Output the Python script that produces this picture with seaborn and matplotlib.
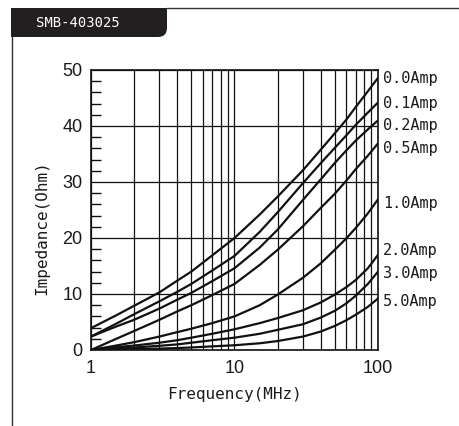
import matplotlib
matplotlib.use("Agg")
import matplotlib.pyplot as plt
import seaborn as sns
import pandas as pd
from matplotlib.path import Path
from matplotlib.patches import PathPatch
from matplotlib.lines import Line2D
from matplotlib.ticker import FixedLocator, MultipleLocator, NullFormatter

# ---------------- data ----------------
freq = [1, 1.5, 2, 3, 4, 5, 7, 10, 15, 20, 30, 40, 50, 60, 70, 85, 100]
imp_0_0 = [3.9, 6.2, 7.9, 10.3, 12.4, 14.0, 16.9, 20.0, 24.2, 27.4, 32.1, 35.8, 38.7, 41.1, 43.4, 46.2, 48.6]
imp_0_1 = [2.4, 4.7, 6.4, 8.7, 10.4, 11.8, 14.2, 16.8, 21.1, 24.6, 29.8, 33.4, 36.1, 38.3, 40.2, 42.4, 44.2]
imp_0_2 = [2.4, 4.2, 5.4, 7.4, 9.0, 10.2, 12.3, 14.6, 18.3, 21.5, 26.8, 30.5, 33.4, 35.6, 37.4, 39.4, 41.0]
imp_0_5 = [0.0, 2.0, 3.4, 5.4, 6.9, 8.0, 9.8, 11.8, 15.2, 17.9, 22.1, 25.4, 27.9, 30.2, 32.3, 34.7, 36.9]
imp_1_0 = [0.0, 0.8, 1.4, 2.4, 3.2, 3.8, 4.8, 6.0, 8.0, 9.9, 12.9, 15.5, 17.9, 19.9, 21.8, 24.4, 26.9]
imp_2_0 = [0.0, 0.5, 0.8, 1.3, 1.75, 2.2, 2.9, 3.7, 4.8, 5.7, 7.1, 8.5, 9.9, 11.2, 12.5, 14.6, 17.0]
imp_3_0 = [0.0, 0.28, 0.45, 0.75, 1.0, 1.3, 1.75, 2.2, 2.9, 3.6, 4.6, 5.8, 7.0, 8.3, 9.7, 11.8, 14.0]
imp_5_0 = [0.0, 0.08, 0.15, 0.25, 0.35, 0.45, 0.65, 0.85, 1.2, 1.6, 2.4, 3.3, 4.3, 5.3, 6.3, 7.7, 9.2]

currents = ["0.0Amp", "0.1Amp", "0.2Amp", "0.5Amp", "1.0Amp", "2.0Amp", "3.0Amp", "5.0Amp"]
series = [imp_0_0, imp_0_1, imp_0_2, imp_0_5, imp_1_0, imp_2_0, imp_3_0, imp_5_0]
label_y = [48.5, 44.1, 40.0, 35.9, 26.1, 17.7, 13.6, 8.7]

x_ticks = [1, 10, 100]
x_tick_labels = ["1", "10", "100"]
y_ticks = [0, 10, 20, 30, 40, 50]
title_tab = "SMB-403025"
x_label = "Frequency(MHz)"
y_label = "Impedance(Ohm)"

rows = []
for cur, vals in zip(currents, series):
    for f, v in zip(freq, vals):
        rows.append({"freq": f, "imp": v, "current": cur})
df = pd.DataFrame(rows)

# ---------------- figure ----------------
sns.set_style("white")
W, H = 460, 426
fig = plt.figure(figsize=(W / 100, H / 100), dpi=100)
ax = fig.add_axes([91 / W, 76 / H, 287 / W, 280 / H])

sns.lineplot(data=df, x="freq", y="imp", hue="current", hue_order=currents,
             palette=["#111111"] * len(currents), legend=False, ax=ax,
             estimator=None, sort=False, linewidth=1.6)

ax.set_xscale("log")
ax.set_xlim(1, 100)
ax.set_ylim(0, 50)
ax.xaxis.set_major_locator(FixedLocator(x_ticks))
ax.set_xticklabels(x_tick_labels)
ax.xaxis.set_minor_locator(FixedLocator([2, 3, 4, 5, 6, 7, 8, 9, 20, 30, 40, 50, 60, 70, 80, 90]))
ax.xaxis.set_minor_formatter(NullFormatter())
ax.yaxis.set_major_locator(FixedLocator(y_ticks))
ax.yaxis.set_minor_locator(MultipleLocator(2))

ax.grid(True, which="both", axis="x", color="#111111", linewidth=0.9)
ax.grid(True, which="major", axis="y", color="#111111", linewidth=0.9)
ax.set_axisbelow(False)

ax.tick_params(axis="both", which="major", length=0)
ax.tick_params(axis="x", which="major", pad=7)
ax.tick_params(axis="y", which="major", pad=6)
ax.tick_params(axis="x", which="minor", length=0)
ax.tick_params(axis="y", which="minor", direction="in", length=7, width=1.0,
               color="#111111", left=True, right=False)
for lab in ax.get_xticklabels() + ax.get_yticklabels():
    lab.set_family("Liberation Sans")
    lab.set_fontsize(13)
    lab.set_color("#1a1a1a")
for s in ax.spines.values():
    s.set_color("#111111")
    s.set_linewidth(1.2)

ax.set_xlabel("")
ax.set_ylabel("")

# curve labels
for cur, yv in zip(currents, label_y):
    ax.text(1.018, yv, cur, transform=ax.get_yaxis_transform(), ha="left", va="center",
            fontsize=11, family="DejaVu Sans Mono", color="#1a1a1a")

# axis labels
fig.text(234.5 / W, 1 - 394 / H, x_label, ha="center", va="center",
         fontsize=11.5, family="DejaVu Sans Mono", color="#1a1a1a")
fig.text(41.5 / W, 1 - 228 / H, y_label, ha="center", va="center", rotation=90,
         fontsize=11.5, family="DejaVu Sans Mono", color="#1a1a1a")

# header tab with rounded bottom-right corner
def px(x, y):
    return (x / W, 1 - y / H)

verts = [px(11, 8), px(167, 8), px(167, 28), px(167, 37), px(158, 37), px(11, 37), px(11, 8)]
codes = [Path.MOVETO, Path.LINETO, Path.LINETO, Path.CURVE3, Path.CURVE3, Path.LINETO, Path.CLOSEPOLY]
tab = PathPatch(Path(verts, codes), transform=fig.transFigure, facecolor="#231f20",
                edgecolor="none")
fig.patches.append(tab)
fig.text(36 / W, 1 - 23 / H, title_tab, ha="left", va="center", color="white",
         fontsize=10, family="DejaVu Sans Mono")

# page frame lines
fig.add_artist(Line2D([167 / W, 1.0], [1 - 8.3 / H, 1 - 8.3 / H], transform=fig.transFigure,
                      color="#333333", linewidth=1.0))
fig.add_artist(Line2D([11.5 / W, 11.5 / W], [1 - 37 / H, 0.0], transform=fig.transFigure,
                      color="#333333", linewidth=1.0))

fig.savefig("out.png", dpi=100, facecolor="white")
